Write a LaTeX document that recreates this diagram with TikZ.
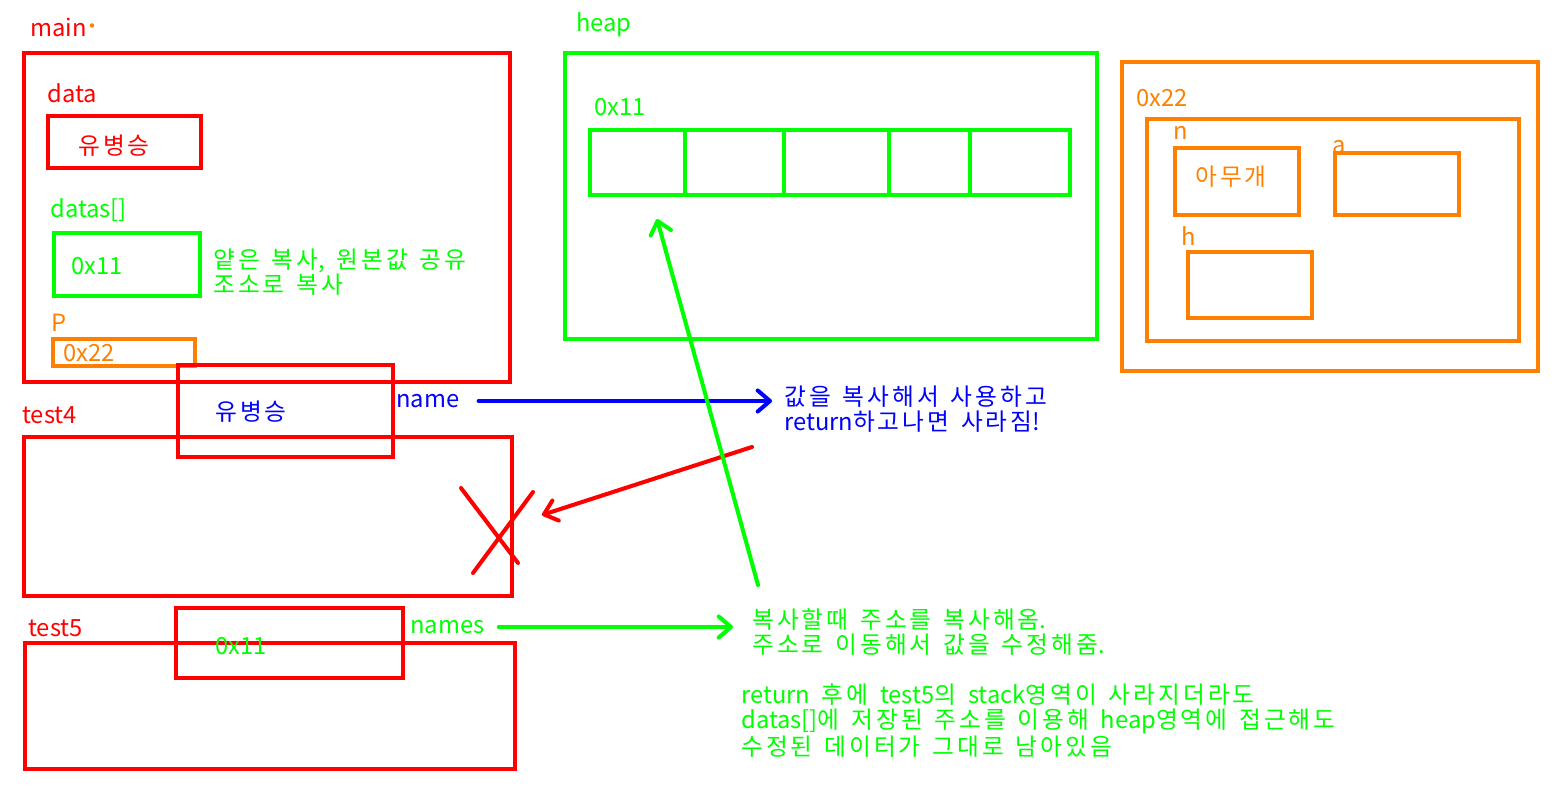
\documentclass[tikz,border=0pt]{standalone}
\usepackage{fontspec}
\setmainfont{Noto Sans CJK KR}[WordSpace=2.2]
\usepackage{tikz}
\usetikzlibrary{arrows.meta}
\usetikzlibrary{positioning}

% wider spacing between Hangul syllables
\newXeTeXintercharclass\krclass
\makeatletter
\count@="AC00
\loop \XeTeXcharclass\count@=\krclass \ifnum\count@<"D7A3 \advance\count@ 1 \repeat
\makeatother
\XeTeXinterchartoks\krclass\krclass={\kern1.7pt}
\XeTeXinterchartokenstate=1

\definecolor{pRed}{HTML}{FF0000}
\definecolor{pGreen}{HTML}{00FF00}
\definecolor{pOrange}{HTML}{FF8000}
\definecolor{pBlue}{HTML}{0000FF}

\tikzset{
    membox/.style={rectangle, draw=#1, line width=2.3pt, inner sep=0pt},
    lbl/.style={anchor=west, inner sep=0pt, text=#1, font=\fontsize{13.5}{14}\selectfont},
    note/.style={anchor=west, inner sep=0pt, text=#1, align=left, font=\fontsize{13.5}{14.2}\selectfont},
    flow/.style={draw=#1, line width=2.3pt, line cap=round, ->},
    >={Straight Barb[length=7pt, width=12pt, line width=2.3pt, round]}
}

\begin{document}
\begin{tikzpicture}
    \useasboundingbox (0,0) rectangle (31.08,-15.88);

    % stack: main
    \node [lbl=pRed] (main_lbl) at (0.60,-0.54) {main};
    \fill [pOrange] (1.84,-0.51) circle (0.045cm);
    \node [membox=pRed, minimum width=9.72cm, minimum height=6.58cm] (main_box) at (5.34,-4.35) {};
    \node [lbl=pRed] (data_lbl) at (0.94,-1.86) {data};
    \node [membox=pRed, minimum width=3.06cm, minimum height=1.04cm] (data_box) at (2.49,-2.84) {};
    \node [lbl=pRed] (data_val) at (1.56,-2.92) {유병승};
    \node [lbl=pGreen] (datas_lbl) at (1.00,-4.20) {datas[]};
    \node [membox=pGreen, minimum width=2.92cm, minimum height=1.26cm] (datas_box) at (2.54,-5.29) {};
    \node [lbl=pGreen] (datas_val) at (1.42,-5.32) {0x11};
    \node [note=pGreen] (shallow_txt) at (4.26,-5.44) {얕은 복사, 원본값 공유\\조소로 복사};
    \node [lbl=pOrange] (p_lbl) at (1.02,-6.46) {P};
    \node [membox=pOrange, minimum width=2.84cm, minimum height=0.54cm] (p_box) at (2.48,-7.05) {};
    \node [lbl=pOrange] (p_val) at (1.26,-7.06) {0x22};

    % stack: test4
    \node [lbl=pRed] (test4_lbl) at (0.44,-8.30) {test4};
    \node [membox=pRed, minimum width=9.76cm, minimum height=3.18cm] (test4_box) at (5.36,-10.33) {};
    \node [membox=pRed, minimum width=4.30cm, minimum height=1.84cm] (name_box) at (5.71,-8.22) {};
    \node [lbl=pBlue] (name_val) at (4.30,-8.24) {유병승};
    \node [lbl=pBlue] (name_lbl) at (7.92,-8.02) {name};
    \node [note=pBlue] (copy_txt) at (15.68,-8.19) {값을 복사해서 사용하고\\return하고나면 사라짐!};
    \draw [pRed, line width=2.3pt, line cap=round] (9.22,-9.76) -- (10.36,-11.26);
    \draw [pRed, line width=2.3pt, line cap=round] (10.66,-9.84) -- (9.46,-11.46);

    % stack: test5
    \node [lbl=pRed] (test5_lbl) at (0.56,-12.56) {test5};
    \node [membox=pRed, minimum width=9.80cm, minimum height=2.52cm] (test5_box) at (5.40,-14.12) {};
    \node [membox=pRed, minimum width=4.54cm, minimum height=1.40cm] (names_box) at (5.79,-12.86) {};
    \node [lbl=pGreen] (names_val) at (4.30,-12.92) {0x11};
    \node [lbl=pGreen] (names_lbl) at (8.20,-12.54) {names};
    \node [note=pGreen] (addr_txt) at (15.04,-12.64) {복사할때 주소를 복사해옴.\\주소로 이동해서 값을 수정해줌.};
    \node [note=pGreen] (keep_txt) at (14.82,-14.41) {return 후에 test5의 stack영역이 사라지더라도\\datas[]에 저장된 주소를 이용해 heap영역에 접근해도\\수정된 데이터가 그대로 남아있음};

    % heap
    \node [lbl=pGreen] (heap_lbl) at (11.52,-0.50) {heap};
    \node [membox=pGreen, minimum width=10.64cm, minimum height=5.72cm] (heap_box) at (16.62,-3.92) {};
    \node [lbl=pGreen] (arr_lbl) at (11.88,-2.14) {0x11};
    \foreach \i/\x/\w in {1/12.75/1.90, 2/14.69/1.98, 3/16.73/2.10, 4/18.59/1.62, 5/20.40/2.00}
        \node [membox=pGreen, minimum width=\w cm, minimum height=1.30cm] (cell\i) at (\x,-3.25) {};

    \node [membox=pOrange, minimum width=8.32cm, minimum height=6.18cm] (obj_outer) at (26.60,-4.33) {};
    \node [lbl=pOrange] (obj_lbl) at (22.72,-1.96) {0x22};
    \node [membox=pOrange, minimum width=7.44cm, minimum height=4.44cm] (obj_inner) at (26.66,-4.60) {};
    \node [lbl=pOrange] (n_lbl) at (23.46,-2.66) {n};
    \node [membox=pOrange, minimum width=2.48cm, minimum height=1.34cm] (n_box) at (24.74,-3.63) {};
    \node [lbl=pOrange] (n_val) at (23.90,-3.54) {아무개};
    \node [lbl=pOrange] (a_lbl) at (26.64,-2.94) {a};
    \node [membox=pOrange, minimum width=2.48cm, minimum height=1.24cm] (a_box) at (27.94,-3.68) {};
    \node [lbl=pOrange] (h_lbl) at (23.62,-4.72) {h};
    \node [membox=pOrange, minimum width=2.48cm, minimum height=1.32cm] (h_box) at (25.00,-5.70) {};

    % arrows
    \coordinate (red_start) at (15.04,-8.94);
    \coordinate (red_end) at (10.84,-10.30);
    \coordinate (green_start) at (15.16,-11.70);

    \draw [flow=pBlue, shorten <=0.38cm, shorten >=0.24cm] (name_lbl.east) -- (name_lbl.east -| copy_txt.west);
    \draw [flow=pRed] (red_start) -- (red_end);
    \draw [flow=pGreen, shorten <=0.28cm, shorten >=0.38cm] (names_lbl.east) -- (names_lbl.east -| addr_txt.west);
    \draw [flow=pGreen] (green_start) -- ([xshift=0.39cm, yshift=-0.44cm] cell1.south);
\end{tikzpicture}
\end{document}
